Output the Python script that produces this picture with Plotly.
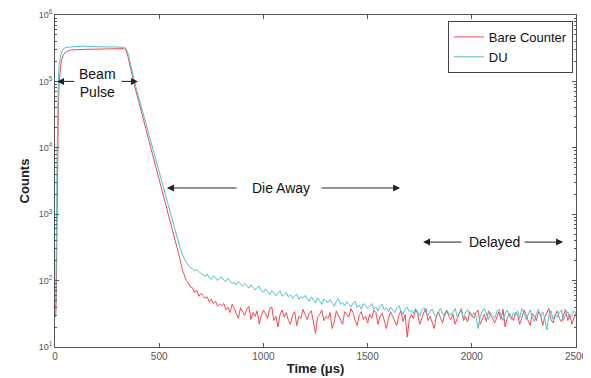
import plotly.graph_objects as go

# ---------------- data ----------------
time_us = [0, 2, 4, 6, 8, 10, 12, 14, 16, 18, 20] + list(range(30, 2501, 10))

bare_rise = [28, 30, 32, 60, 400, 2000, 8000, 20000, 40000, 65000, 95000]
du_rise = [40, 38, 45, 120, 1500, 8000, 30000, 60000, 100000, 140000, 180000]

bare_plateau = [200000, 250000, 275000, 288000, 294000, 298000, 300000, 301000, 302000, 302000,
                303000, 303000, 304000, 304000, 305000, 305000, 306000, 306000, 307000, 307000,
                308000, 308000, 309000, 309000, 310000, 310000, 311000, 311000, 312000, 312000, 312000]
du_plateau = [270000, 310000, 322000, 328000, 330000, 331000, 333000, 335000, 338000, 342000,
              336000, 340000, 334000, 333000, 332000, 333000, 331000, 332000, 331000, 330000,
              332000, 331000, 330000, 331000, 330000, 331000, 330000, 330000, 329000, 328000, 326000]

bare_decay = [298000, 238000, 170000, 121000, 89000, 68000, 52000, 39500, 30300, 23200,
              17800, 13600, 10400, 8000, 6100, 4650, 3550, 2700, 2060, 1570,
              1200, 910, 690, 520, 390, 290, 210, 150, 124, 100,
              92, 80, 78, 66, 72, 58, 64]
du_decay = [315000, 265000, 195000, 138000, 102000, 78000, 60000, 46000, 35500, 27200,
            20800, 16000, 12300, 9400, 7200, 5500, 4250, 3250, 2500, 1900,
            1460, 1120, 860, 660, 510, 395, 312, 252, 212, 186,
            170, 156, 150, 140, 146, 134, 128]

bare_tail = [60, 54, 57, 48, 52, 45, 49, 41, 44, 42,
             45, 36, 40, 33, 44, 38, 31, 27, 39, 35,
             30, 37, 41, 26, 33, 29, 35, 22, 30, 36,
             32, 27, 38, 40, 25, 29, 20, 31, 36, 28,
             33, 25, 22, 30, 34, 21, 29, 27, 37, 31,
             26, 32, 35, 24, 16, 28, 31, 36, 25, 29,
             27, 33, 19, 24, 35, 30, 26, 22, 34, 31,
             28, 38, 33, 25, 21, 30, 34, 26, 29, 23,
             31, 27, 36, 33, 22, 29, 32, 25, 19, 27,
             34, 29, 25, 21, 30, 35, 24, 31, 14, 26,
             31, 27, 36, 32, 22, 28, 33, 38, 25, 29,
             24, 19, 30, 34, 27, 23, 32, 36, 29, 26,
             31, 22, 27, 33, 38, 25, 29, 24, 34, 30,
             27, 33, 36, 22, 26, 31, 24, 35, 30, 27,
             23, 29, 34, 26, 37, 20, 27, 32, 28, 25,
             33, 30, 22, 27, 36, 31, 25, 21, 32, 29,
             25, 34, 31, 21, 28, 33, 38, 26, 23, 30,
             35, 27, 24, 30, 37, 25, 31, 22, 28, 33]
du_tail = [122, 116, 126, 110, 104, 118, 112, 100, 108, 114,
           101, 96, 108, 99, 90, 94, 86, 97, 88, 82,
           91, 84, 77, 86, 80, 72, 79, 83, 70, 67,
           75, 69, 62, 71, 66, 59, 64, 70, 58, 63,
           66, 57, 61, 54, 59, 63, 52, 57, 55, 60,
           53, 49, 57, 52, 46, 55, 50, 44, 53, 49,
           47, 52, 45, 41, 49, 54, 44, 47, 42, 48,
           44, 40, 46, 49, 39, 43, 37, 45, 42, 38,
           41, 45, 37, 40, 35, 42, 44, 36, 39, 34,
           40, 36, 33, 39, 42, 35, 31, 37, 40, 34,
           36, 32, 38, 34, 29, 36, 39, 33, 30, 35,
           37, 31, 28, 34, 38, 32, 29, 35, 33, 30,
           34, 38, 29, 32, 36, 27, 33, 37, 31, 29,
           33, 29, 19, 28, 35, 38, 31, 26, 33, 30,
           27, 34, 37, 30, 25, 32, 36, 29, 26, 33,
           30, 35, 27, 38, 33, 26, 31, 36, 28, 24,
           32, 37, 29, 34, 27, 18, 30, 35, 26, 31,
           28, 33, 36, 25, 31, 34, 27, 30, 35, 32]

bare_counter = bare_rise + bare_plateau + bare_decay + bare_tail
du = du_rise + du_plateau + du_decay + du_tail

y_tick_vals = [1e1, 1e2, 1e3, 1e4, 1e5, 1e6]
y_tick_text = ["10<sup>1</sup>", "10<sup>2</sup>", "10<sup>3</sup>",
               "10<sup>4</sup>", "10<sup>5</sup>", "10<sup>6</sup>"]
x_tick_vals = [0, 500, 1000, 1500, 2000, 2500]

# ---------------- figure ----------------
FONT = "Liberation Sans, Arial, sans-serif"
AX = "#555555"

fig = go.Figure()
fig.add_trace(go.Scatter(x=time_us, y=bare_counter, mode="lines", name="Bare Counter",
                         line=dict(color="#ef4a55", width=1)))
fig.add_trace(go.Scatter(x=time_us, y=du, mode="lines", name="DU",
                         line=dict(color="#4fc3c8", width=1)))

minor_vals = [m * 10 ** e for e in range(1, 6) for m in range(2, 10)]

# page body has an 8px margin, so the figure is sized to fit the 591x378 window
fig.update_layout(
    width=583, height=370,
    margin=dict(l=47, r=15, t=7, b=31),
    paper_bgcolor="white", plot_bgcolor="white",
    font=dict(family=FONT, size=10, color="#444"),
    showlegend=True,
    legend=dict(x=0.874, y=0.982, xanchor="center", yanchor="top",
                bordercolor="#444", borderwidth=1, bgcolor="white",
                font=dict(size=13, color="#111"), tracegroupgap=0,
                itemwidth=30),
    xaxis=dict(range=[0, 2500], tickmode="array", tickvals=x_tick_vals,
               ticks="inside", ticklen=4, tickcolor=AX,
               showline=True, linecolor=AX, linewidth=1, mirror="allticks",
               showgrid=False, zeroline=False, automargin=False,
               tickfont=dict(size=10, color="#555"),
               title=dict(text="<b>Time (μs)</b>", font=dict(size=13, color="#222"),
                          standoff=2)),
    yaxis=dict(type="log", range=[1, 6], tickmode="array", tickvals=y_tick_vals,
               ticktext=y_tick_text, ticks="inside", ticklen=4, tickcolor=AX,
               minor=dict(tickmode="array", tickvals=minor_vals, ticks="inside",
                          ticklen=2, tickcolor=AX),
               showline=True, linecolor=AX, linewidth=1, mirror="allticks",
               showgrid=False, zeroline=False, automargin=False,
               tickfont=dict(size=9, color="#555"),
               title=dict(text="<b>Counts</b>", font=dict(size=13, color="#222"),
                          standoff=6)),
)

ARR = "#222222"
def arrow(x_tip, y_tip, x_tail, y_tail):
    fig.add_annotation(x=x_tip, y=y_tip, ax=x_tail, ay=y_tail, xref="x", yref="y",
                       axref="x", ayref="y", text="", showarrow=True,
                       arrowhead=2, arrowsize=1.4, arrowwidth=1, arrowcolor=ARR)

def label(x, y, txt):
    fig.add_annotation(x=x, y=y, xref="x", yref="y", text=txt, showarrow=False,
                       font=dict(family=FONT, size=14, color="#111"))

# Beam Pulse
label(202, 4.976, "Beam<br>Pulse")
arrow(10, 5.0, 100, 5.0)
arrow(398, 5.0, 312, 5.0)
# Die Away
label(1085, 3.395, "Die Away")
arrow(537, 3.395, 878, 3.395)
arrow(1656, 3.395, 1272, 3.395)
# Delayed
label(2107, 2.58, "Delayed")
arrow(1766, 2.58, 1958, 2.58)
arrow(2438, 2.58, 2246, 2.58)

fig.write_html("out.html")
